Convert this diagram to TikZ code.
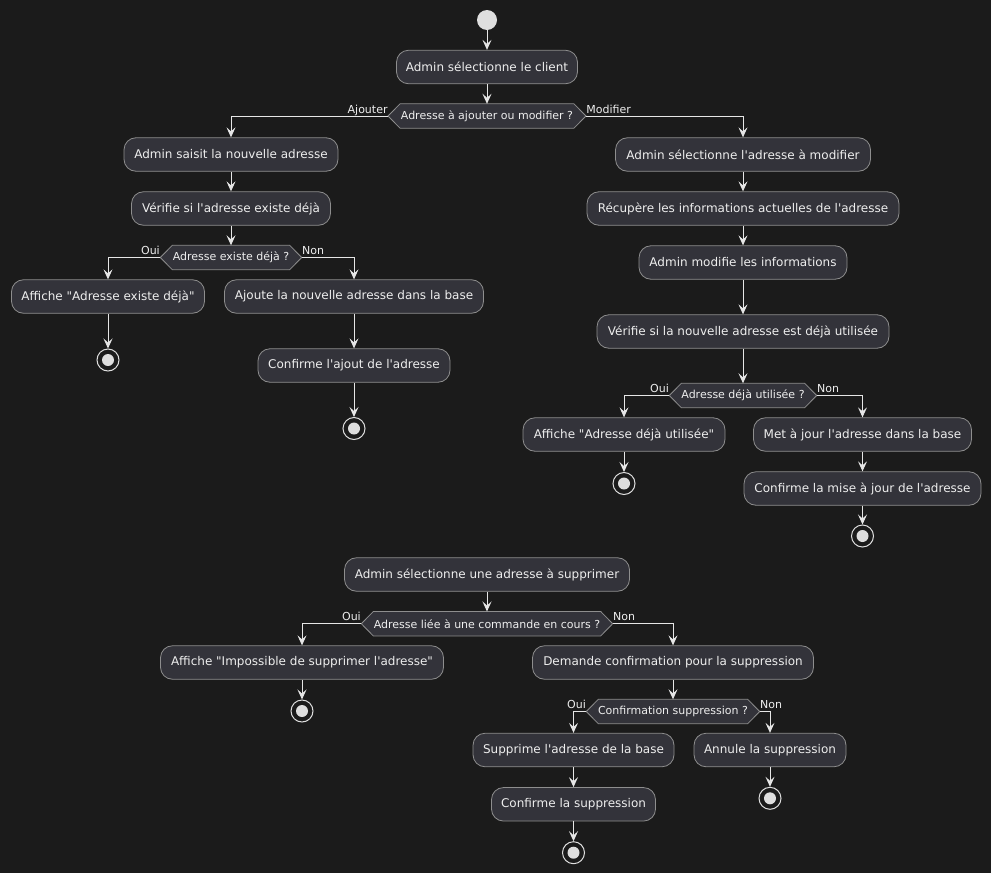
\documentclass[tikz,border=0pt]{standalone}
\usepackage{fontspec}
\newfontfamily\uifont{DejaVu Sans}
\usetikzlibrary{arrows.meta,calc,backgrounds}

\definecolor{bgc}{HTML}{1B1B1B}
\definecolor{boxc}{HTML}{33333A}
\definecolor{edgec}{HTML}{8E8E8E}
\definecolor{txtc}{HTML}{EEEEEE}
\definecolor{linec}{HTML}{E6E6E6}
\definecolor{dotc}{HTML}{DEDEDE}

\tikzset{
  act/.style={rounded corners=12pt, draw=edgec, line width=0.8pt, fill=boxc,
    text=txtc, font=\uifont\fontsize{12pt}{14pt}\selectfont,
    minimum height=33.5pt, inner sep=0pt},
  dec/.style={text=txtc, font=\uifont\fontsize{11pt}{13pt}\selectfont,
    minimum height=24pt, inner sep=0pt},
  hexa/.style={draw=edgec, line width=0.8pt, fill=boxc},
  flow/.style={draw=linec, line width=1pt,
    -{Stealth[length=10pt,width=9pt,inset=4pt]}},
  lbl/.style={text=txtc, font=\uifont\fontsize{11pt}{13pt}\selectfont, inner sep=0pt},
  lblL/.style={lbl, anchor=base east, yshift=3pt},
  lblR/.style={lbl, anchor=base west, yshift=3pt},
  startdot/.style={circle, fill=dotc, minimum size=20pt, inner sep=0pt},
  stopdot/.style={circle, draw=dotc, line width=1pt, fill=bgc,
    minimum size=22pt, inner sep=0pt,
    path picture={\fill[dotc] (path picture bounding box.center) circle (6pt);}},
}

% hexagonal outline behind a decision node
\newcommand\hexfor[1]{%
  \path[hexa] (#1.west) -- ($(#1.north west)+(12,0)$) -- ($(#1.north east)+(-12,0)$)
    -- (#1.east) -- ($(#1.south east)+(-12,0)$) -- ($(#1.south west)+(12,0)$) -- cycle;}

\begin{document}
\begin{tikzpicture}[x=1pt,y=-1pt]
\begin{scope}[on background layer]
  \fill[bgc] (0,0) rectangle (991,873);
\end{scope}
\useasboundingbox (0,0) rectangle (991,873);

% ---- add / modify flow
\node[startdot] (st) at (487,20) {};
\node[act, minimum width=181pt] (n1) at (487,67) {Admin sélectionne le client};
\node[dec, minimum width=197.5pt] (d1) at (487,116) {Adresse à ajouter ou modifier ?};

\node[act, minimum width=214pt] (a1) at (231,154.5) {Admin saisit la nouvelle adresse};
\node[act, minimum width=199pt] (a2) at (231,208.5) {Vérifie si l'adresse existe déjà};
\node[dec, minimum width=141pt] (d2) at (231,257.5) {Adresse existe déjà ?};
\node[act, minimum width=193pt] (a3) at (108,296.5) {Affiche "Adresse existe déjà"};
\node[stopdot] (e1) at (108,360) {};
\node[act, minimum width=259pt] (a4) at (354,296.5) {Ajoute la nouvelle adresse dans la base};
\node[act, minimum width=192pt] (a5) at (354,365.5) {Confirme l'ajout de l'adresse};
\node[stopdot] (e2) at (354,428.5) {};

\node[act, minimum width=255pt] (m1) at (743,154.5) {Admin sélectionne l'adresse à modifier};
\node[act, minimum width=312pt] (m2) at (743,208.5) {Récupère les informations actuelles de l'adresse};
\node[act, minimum width=208pt] (m3) at (743,262.5) {Admin modifie les informations};
\node[act, minimum width=292pt] (m4) at (743,331.5) {Vérifie si la nouvelle adresse est déjà utilisée};
\node[dec, minimum width=147pt] (d3) at (743,395.5) {Adresse déjà utilisée ?};
\node[act, minimum width=202pt] (m5) at (624,434.5) {Affiche "Adresse déjà utilisée"};
\node[stopdot] (e3) at (624,483.5) {};
\node[act, minimum width=218pt] (m6) at (862.5,434.5) {Met à jour l'adresse dans la base};
\node[act, minimum width=237pt] (m7) at (862.5,488.5) {Confirme la mise à jour de l'adresse};
\node[stopdot] (e4) at (862.5,536) {};

% ---- delete flow
\node[act, minimum width=285pt] (s1) at (487,574.5) {Admin sélectionne une adresse à supprimer};
\node[dec, minimum width=251pt] (d4) at (487,623.7) {Adresse liée à une commande en cours ?};
\node[act, minimum width=283pt] (s2) at (302,662.5) {Affiche "Impossible de supprimer l'adresse"};
\node[stopdot] (e5) at (302,711) {};
\node[act, minimum width=281pt] (s3) at (673,662.5) {Demande confirmation pour la suppression};
\node[dec, minimum width=173pt] (d5) at (673,711.5) {Confirmation suppression ?};
\node[act, minimum width=201pt] (s4) at (573.5,750) {Supprime l'adresse de la base};
\node[act, minimum width=164pt] (s5) at (573.5,804.3) {Confirme la suppression};
\node[stopdot] (e6) at (573.5,852.7) {};
\node[act, minimum width=152pt] (s6) at (770,750) {Annule la suppression};
\node[stopdot] (e7) at (770,798.3) {};

\begin{scope}[on background layer]
  \hexfor{d1} \hexfor{d2} \hexfor{d3} \hexfor{d4} \hexfor{d5}
\end{scope}

% ---- connectors
\draw[flow] (st) -- (n1);
\draw[flow] (n1) -- (d1);
\draw[flow] (d1.west) node[lblL]{Ajouter} -| (a1.north);
\draw[flow] (d1.east) node[lblR]{Modifier} -| (m1.north);

\draw[flow] (a1) -- (a2);
\draw[flow] (a2) -- (d2);
\draw[flow] (d2.west) node[lblL]{Oui} -| (a3.north);
\draw[flow] (d2.east) node[lblR]{Non} -| (a4.north);
\draw[flow] (a3) -- (e1);
\draw[flow] (a4) -- (a5);
\draw[flow] (a5) -- (e2);

\draw[flow] (m1) -- (m2);
\draw[flow] (m2) -- (m3);
\draw[flow] (m3) -- (m4);
\draw[flow] (m4) -- (d3);
\draw[flow] (d3.west) node[lblL]{Oui} -| (m5.north);
\draw[flow] (d3.east) node[lblR]{Non} -| (m6.north);
\draw[flow] (m5) -- (e3);
\draw[flow] (m6) -- (m7);
\draw[flow] (m7) -- (e4);

\draw[flow] (s1) -- (d4);
\draw[flow] (d4.west) node[lblL]{Oui} -| (s2.north);
\draw[flow] (d4.east) node[lblR]{Non} -| (s3.north);
\draw[flow] (s2) -- (e5);
\draw[flow] (s3) -- (d5);
\draw[flow] (d5.west) node[lblL]{Oui} -| (s4.north);
\draw[flow] (d5.east) node[lblR]{Non} -| (s6.north);
\draw[flow] (s4) -- (s5);
\draw[flow] (s5) -- (e6);
\draw[flow] (s6) -- (e7);
\end{tikzpicture}
\end{document}
